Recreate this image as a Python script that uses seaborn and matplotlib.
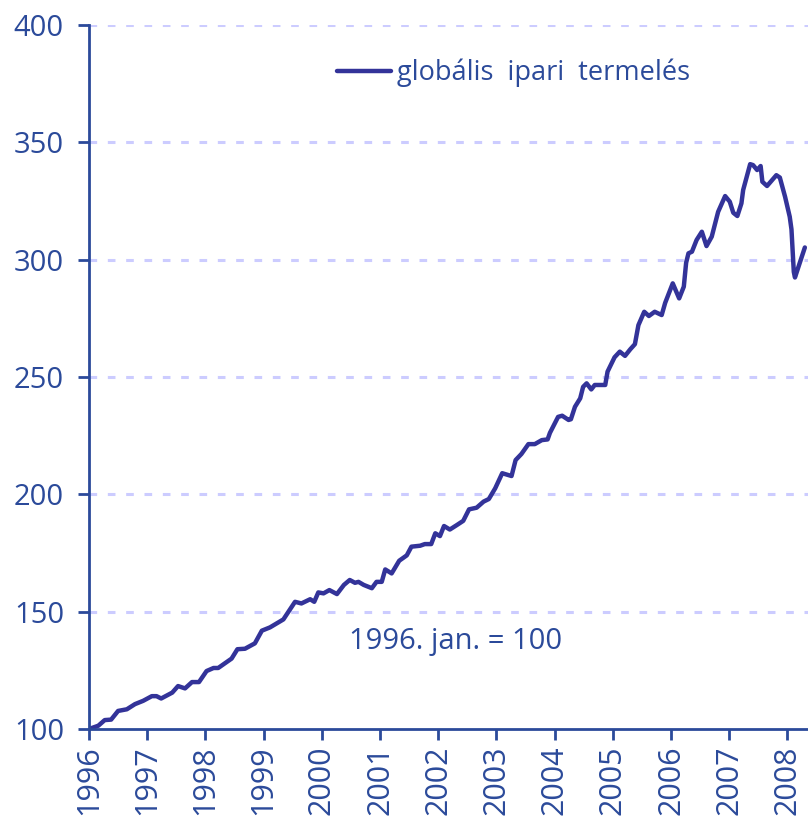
"""
Globális ipari termelés, 1996. jan. = 100 — vonaldiagram seaborn-nal.
"""
import matplotlib
matplotlib.use("Agg")
import matplotlib.pyplot as plt
import pandas as pd
import seaborn as sns

# idő (tizedes év) és index értékek
YEARS = [
    1996.00, 1996.16, 1996.27, 1996.38, 1996.50, 1996.65, 1996.79, 1996.93,
    1997.08, 1997.16, 1997.24, 1997.43, 1997.53, 1997.65, 1997.77, 1997.89,
    1998.02, 1998.14, 1998.22, 1998.45, 1998.55, 1998.68, 1998.85, 1998.97,
    1999.11, 1999.34, 1999.54, 1999.65, 1999.80, 1999.87, 1999.94, 2000.03,
    2000.13, 2000.26, 2000.38, 2000.48, 2000.57, 2000.63, 2000.72, 2000.86,
    2000.94, 2001.03, 2001.09, 2001.20, 2001.33, 2001.46, 2001.54, 2001.69,
    2001.77, 2001.88, 2001.95, 2002.03, 2002.10, 2002.20, 2002.32, 2002.43,
    2002.53, 2002.66, 2002.78, 2002.87, 2002.98, 2003.10, 2003.26, 2003.33,
    2003.43, 2003.55, 2003.66, 2003.78, 2003.88, 2003.92, 2004.06, 2004.13,
    2004.24, 2004.28, 2004.35, 2004.44, 2004.49, 2004.55, 2004.63, 2004.69,
    2004.87, 2004.91, 2005.03, 2005.12, 2005.21, 2005.30, 2005.38, 2005.44,
    2005.54, 2005.62, 2005.72, 2005.84, 2005.90, 2006.03, 2006.14, 2006.22,
    2006.26, 2006.30, 2006.36, 2006.44, 2006.53, 2006.61, 2006.70, 2006.81,
    2006.93, 2007.01, 2007.07, 2007.14, 2007.21, 2007.24, 2007.36, 2007.41,
    2007.48, 2007.54, 2007.57, 2007.65, 2007.81, 2007.87, 2007.96, 2008.04,
    2008.07, 2008.11, 2008.13, 2008.20, 2008.30,
]
VALUES = [
    100.0, 101.4, 103.8, 104.0, 107.7, 108.4, 110.6, 112.0,
    114.0, 114.0, 113.0, 115.5, 118.3, 117.3, 120.0, 120.0,
    124.7, 126.0, 126.0, 130.0, 134.0, 134.2, 136.5, 141.9,
    143.3, 146.7, 154.2, 153.5, 155.3, 154.2, 158.2, 157.8,
    159.2, 157.5, 161.4, 163.5, 162.3, 162.7, 161.4, 160.0,
    162.7, 162.7, 168.0, 166.3, 171.7, 174.0, 177.7, 178.1,
    178.8, 178.8, 183.4, 182.2, 186.5, 185.0, 186.9, 188.7,
    193.6, 194.3, 196.9, 198.0, 202.6, 209.0, 207.8, 214.6,
    217.2, 221.4, 221.4, 223.1, 223.4, 226.2, 233.0, 233.5,
    231.7, 232.0, 237.3, 240.9, 245.8, 247.3, 244.7, 246.6,
    246.6, 252.3, 258.4, 260.8, 259.0, 261.8, 264.0, 272.1,
    277.8, 276.0, 277.8, 276.4, 281.6, 289.9, 283.5, 288.5,
    298.7, 302.7, 303.4, 308.4, 311.9, 305.8, 309.8, 320.4,
    327.1, 324.7, 320.0, 318.6, 324.0, 329.7, 340.7, 340.3,
    338.2, 339.9, 333.2, 331.4, 336.0, 335.0, 326.8, 318.3,
    312.9, 294.8, 292.4, 297.7, 305.2,
]
X_TICKS = list(range(1996, 2009))
Y_TICKS = [100, 150, 200, 250, 300, 350, 400]
SERIES_LABEL = "globális  ipari  termelés"
NOTE = "1996. jan. = 100"

LINE_COLOR = "#333399"
TEXT_COLOR = "#2b4a9a"
GRID_COLOR = "#ccccff"

sns.set_style("white")
plt.rcParams["font.family"] = ["Open Sans", "DejaVu Sans"]

df = pd.DataFrame({"ev": YEARS, "ertek": VALUES})

fig = plt.figure(figsize=(8.08, 8.17), dpi=100)
ax = fig.add_axes([89 / 808, 1 - 729 / 817, 1 - 89 / 808, (729 - 25) / 817])

for y in Y_TICKS[1:]:
    ax.axhline(y, color=GRID_COLOR, lw=2.2, ls=(0, (2.5, 3.5)), zorder=0)

sns.lineplot(data=df, x="ev", y="ertek", color=LINE_COLOR, lw=3.2,
             label=SERIES_LABEL, ax=ax, solid_capstyle="round",
             solid_joinstyle="round")

ax.set_xlim(1996, 1996 + (808 - 89) / 58.2)
ax.set_ylim(100, 400)
ax.set_xticks(X_TICKS)
ax.set_yticks(Y_TICKS)
ax.set_xticklabels([str(y) for y in X_TICKS], rotation=90)
ax.set_xlabel("")
ax.set_ylabel("")

for side in ("top", "right"):
    ax.spines[side].set_visible(False)
for side in ("left", "bottom"):
    ax.spines[side].set_color(TEXT_COLOR)
    ax.spines[side].set_linewidth(2)

ax.tick_params(axis="both", colors=TEXT_COLOR, labelcolor=TEXT_COLOR,
               width=2, length=8, direction="out", bottom=True, left=True)
ax.tick_params(axis="x", pad=4, labelsize=22)
ax.tick_params(axis="y", pad=10, labelsize=21)

ax.text(0.51, 0.125, NOTE, transform=ax.transAxes, ha="center",
        va="center", fontsize=21, color=TEXT_COLOR)

leg = ax.legend(loc="center left", bbox_to_anchor=(0.33, 0.932),
                frameon=False, fontsize=19.5, handlelength=2.0,
                handletextpad=0.2, borderaxespad=0)
for txt in leg.get_texts():
    txt.set_color(TEXT_COLOR)

fig.savefig("out.png", dpi=100)
